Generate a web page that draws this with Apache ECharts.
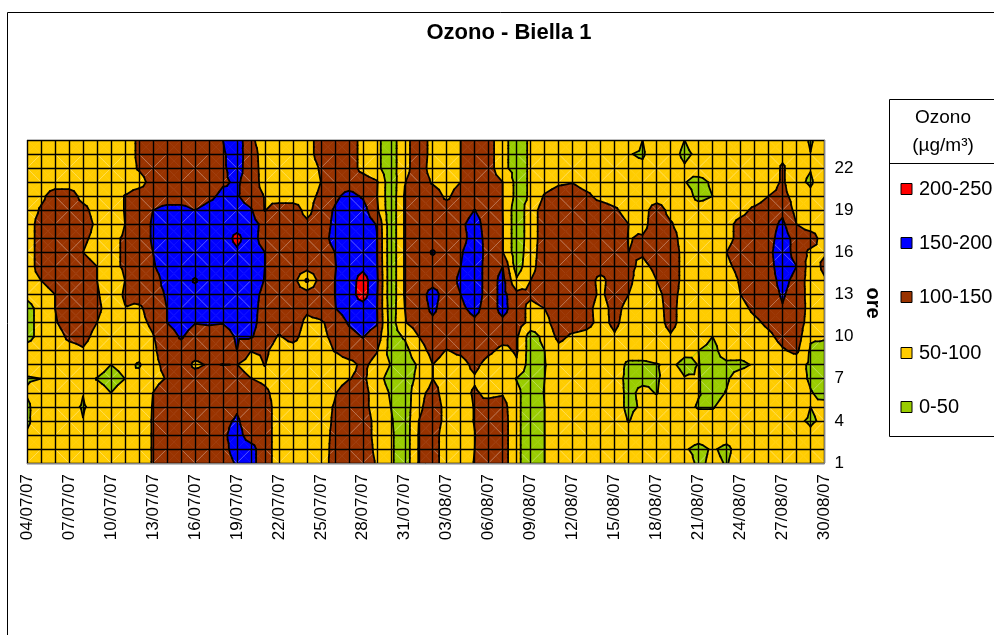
<!DOCTYPE html>
<html><head><meta charset="utf-8">
<style>html,body{margin:0;padding:0;background:#fff}#c{width:994px;height:635px}</style>
<script src="https://cdn.jsdelivr.net/npm/echarts@6/dist/echarts.min.js"></script>
</head><body><div id="c"></div>
<script>
const dates=['04/07/07','05/07/07','06/07/07','07/07/07','08/07/07','09/07/07','10/07/07','11/07/07','12/07/07','13/07/07','14/07/07','15/07/07','16/07/07','17/07/07','18/07/07','19/07/07','20/07/07','21/07/07','22/07/07','23/07/07','24/07/07','25/07/07','26/07/07','27/07/07','28/07/07','29/07/07','30/07/07','31/07/07','01/08/07','02/08/07','03/08/07','04/08/07','05/08/07','06/08/07','07/08/07','08/08/07','09/08/07','10/08/07','11/08/07','12/08/07','13/08/07','14/08/07','15/08/07','16/08/07','17/08/07','18/08/07','19/08/07','20/08/07','21/08/07','22/08/07','23/08/07','24/08/07','25/08/07','26/08/07','27/08/07','28/08/07','29/08/07','30/08/07'];
const hours=['1','2','3','4','5','6','7','8','9','10','11','12','13','14','15','16','17','18','19','20','21','22','23','24'];
const bandLabels=['200-250','150-200','100-150','50-100','0-50'];
const bandColors=['#FF0000','#0000FF','#993300','#FFCC00','#99CC00'];
const h24=[75,75,75,75,75,75,75,70,110,125, 125,125,125,125,150,178,110,75,75,75, 80,120,125,125,85,60,25,85,125,85, 85,100,125,125,60,35,55,75,75,75, 75,75,75,75,50,70,75,50,75,75, 75,75,75,75,75,75,45,75];
const h23=[75,75,75,75,75,75,75,70,110,125, 125,125,125,125,145,170,125,75,75,75, 80,120,125,125,85,60,25,85,125,85, 85,100,125,125,60,35,55,75,75,75, 75,75,75,52,45,80,69,40,60,75, 75,75,75,75,85,75,51,75];
const h22=[75,75,75,75,75,75,75,75,105,125, 125,125,125,125,145,165,130,75,75,75, 75,105,125,125,85,60,25,85,125,80, 80,100,125,125,60,35,55,75,75,75, 75,75,75,60,59,75,75,55,75,75, 75,75,75,60,108,60,52,75];
const h21=[75,75,75,75,75,75,75,75,80,120, 125,125,125,125,145,155,135,75,75,75, 75,100,125,125,125,105,15,98,125,95, 80,100,125,125,100,35,55,75,92,98, 80,75,75,75,75,75,75,52,35,57, 75,75,75,70,108,59,45,74];
const h20=[75,88,125,125,85,75,75,102,125,125, 125,125,125,140,160,155,125,97,75,75, 85,108,140,165,145,102,15,105,125,125, 90,125,125,125,100,35,55,105,125,125, 110,85,75,75,75,75,75,75,35,50, 75,75,75,100,115,80,59,75];
const h19=[70,106,125,125,115,80,75,102,125,150, 165,165,150,165,170,170,155,98,125,125, 85,125,155,180,170,110,15,105,125,125, 125,125,151,125,100,20,75,125,125,125, 125,125,108,80,80,125,85,75,75,75, 75,85,110,125,138,85,75,75];
const h18=[70,125,125,125,125,90,75,100,125,155, 170,175,175,175,175,175,170,135,125,125, 110,125,160,180,175,148,15,105,125,125, 125,140,170,125,102,20,75,125,125,125, 125,125,125,100,85,125,105,75,75,75, 85,115,125,130,160,100,75,75];
const h17=[70,125,125,125,110,85,90,105,125,155, 175,175,175,175,170,215,170,130,125,125, 125,130,165,180,175,152,15,105,125,125, 125,130,175,130,102,20,75,125,125,125, 125,125,125,98,105,125,125,75,75,75, 85,115,125,130,175,130,125,75];
const h16=[70,125,125,125,100,75,90,105,125,150, 175,175,175,175,170,190,170,150,125,125, 125,125,150,175,180,152,15,105,125,155, 125,145,180,130,102,20,80,125,125,125, 125,125,125,100,105,125,125,85,75,75, 100,125,125,135,185,125,90,95];
const h15=[70,125,125,125,125,100,90,105,125,145, 175,175,175,175,175,175,175,150,125,125, 125,125,148,170,185,155,15,105,125,130, 125,150,180,125,150,25,85,125,125,125, 125,125,125,110,90,110,125,85,75,75, 90,115,125,130,180,150,75,110];
const h14=[75,100,125,125,125,100,75,100,125,125, 170,175,145,175,175,175,175,148,125,125, 40,125,150,170,225,160,15,105,125,130, 125,160,180,125,165,57,100,125,125,125, 125,85,125,110,75,100,125,85,75,75, 75,105,125,130,165,135,75,95];
const h13=[60,75,100,125,125,105,75,105,125,130, 155,165,170,170,170,170,165,140,125,125, 125,125,150,175,225,155,15,105,125,170, 125,150,180,125,165,115,110,125,125,125, 125,90,125,100,75,90,115,85,75,75, 75,100,125,130,155,130,80,75];
const h12=[35,65,100,125,125,110,80,98,90,125, 150,170,170,170,170,170,165,135,125,125, 108,120,148,175,175,152,20,100,125,160, 125,140,165,125,165,125,85,100,125,125, 115,80,115,85,75,85,115,80,75,75, 75,85,110,125,147,125,85,75];
const h11=[35,65,95,125,125,100,75,75,85,110, 150,170,152,155,152,165,165,130,125,125, 90,95,115,155,170,155,25,97,125,140, 125,125,140,125,140,125,85,85,125,125, 115,85,110,80,75,80,115,80,75,75, 75,75,90,110,125,125,80,75];
const h10=[35,65,75,110,115,85,75,75,75,97, 125,155,130,130,130,155,155,125,96,115, 80,90,110,135,152,130,30,55,100,125, 125,125,125,125,115,105,25,65,112,92, 85,75,95,75,75,75,95,75,75,50, 75,75,75,90,115,125,55,55];
const h09=[70,75,75,80,95,75,75,75,75,90, 130,130,125,125,125,150,101,108,80,80, 75,80,102,125,125,103,30,35,80,115, 98,108,125,108,90,105,25,50,85,75, 75,75,75,75,75,75,75,59,50,35, 75,70,75,75,95,110,45,35];
const h08=[75,75,75,75,75,75,50,65,45,85, 115,130,90,105,99,101,75,101,80,75, 75,75,75,85,110,85,48,30,55,100, 85,85,110,85,75,95,25,48,75,75, 75,75,75,40,40,48,57,40,51,35, 40,40,55,75,75,68,42,35];
const h07=[45,50,75,75,75,48,30,50,65,85, 103,125,125,125,125,125,101,90,75,75, 75,75,80,98,110,70,30,30,60,100, 85,85,95,75,75,48,30,50,75,75, 75,75,65,40,40,45,70,52,52,35, 45,70,75,75,75,65,45,35];
const h06=[55,75,75,75,51,75,50,75,75,100, 125,125,125,125,125,125,125,110,80,75, 75,75,97,125,115,80,45,20,85,115, 80,85,105,90,95,60,25,52,75,75, 75,75,70,40,60,48,75,65,52,35, 52,75,75,75,75,75,52,40];
const h05=[40,82,75,60,47,60,75,75,75,102, 125,125,125,125,125,145,125,125,75,75, 75,85,103,125,115,80,50,20,90,125, 85,80,102,115,120,60,25,50,75,75, 75,75,70,40,56,75,75,60,47,47, 65,75,75,75,75,75,50,60];
const h04=[42,75,75,75,51,75,75,75,75,103, 125,125,125,125,140,155,130,125,75,75, 75,85,105,125,125,85,55,20,100,125, 85,80,102,125,125,60,25,50,75,75, 75,75,75,48,75,75,75,75,65,65, 75,75,75,75,75,57,45,57];
const h03=[55,75,75,75,75,75,75,75,75,103, 125,125,125,125,143,165,130,125,75,75, 75,85,108,125,125,85,58,20,103,125, 70,80,99,125,125,60,25,50,75,75, 75,75,75,75,75,75,75,75,70,75, 70,75,75,75,75,75,57,75];
const h02=[75,75,75,75,75,75,75,75,75,103, 125,125,125,125,135,170,165,125,75,75, 75,85,110,125,125,90,58,20,103,125, 70,80,100,125,125,60,25,50,75,75, 75,75,75,75,75,75,75,55,38,55, 40,70,75,75,75,75,75,75];
const h01=[75,75,75,75,75,75,75,75,75,103, 125,125,125,125,130,155,165,125,75,75, 75,80,115,125,125,96,58,20,103,125, 70,80,102,125,125,60,25,50,75,75, 75,75,75,75,75,75,75,75,40,60, 47,70,75,75,75,75,75,75];
const rows=[h01,h02,h03,h04,h05,h06,h07,h08,h09,h10,h11,h12,h13,h14,h15,h16,h17,h18,h19,h20,h21,h22,h23,h24];
rows.forEach((r,k)=>{if(r.length!==58)throw new Error('row '+(k+1)+' has '+r.length);});
const levels=[50,100,150,200];
const bandRanges=[[200,1e4],[150,200],[100,150],[50,100],[-1e4,50]];

function clipAbove(p,l,sign){const o=[];for(let k=0;k<p.length;k++){const a=p[k],b=p[(k+1)%p.length];const ia=sign*(a[2]-l)>=0,ib=sign*(b[2]-l)>=0;if(ia)o.push(a);if(ia!==ib){const t=(l-a[2])/(b[2]-a[2]);o.push([a[0]+t*(b[0]-a[0]),a[1]+t*(b[1]-a[1]),l]);}}return o;}
const cellData=[];
for(let j=0;j<23;j++)for(let i=0;i<57;i++)cellData.push([i,j]);
function renderCell(params,api){
  const i=api.value(0),j=api.value(1);
  const P=(a,b,v)=>{const c=api.coord([a,b]);return [c[0],c[1],v];};
  const A=P(i,j,rows[j][i]),B=P(i+1,j,rows[j][i+1]),C=P(i+1,j+1,rows[j+1][i+1]),D=P(i,j+1,rows[j+1][i]);
  const M=[(A[0]+C[0])/2,(A[1]+C[1])/2,(A[2]+B[2]+C[2]+D[2])/4];
  const kids=[];
  [[A,B],[B,C],[C,D],[D,A]].forEach(([u,w])=>{
    const tri=[u,w,M];
    bandRanges.forEach((r,b)=>{
      let p=clipAbove(tri,r[0],1);if(p.length)p=clipAbove(p,r[1],-1);
      if(p.length>=3)kids.push({type:'polygon',z2:1,shape:{points:p.map(q=>[q[0],q[1]])},style:{fill:bandColors[b],stroke:bandColors[b],lineWidth:0.6}});
    });
    levels.forEach(l=>{
      const s=[];[[u,w],[w,M],[M,u]].forEach(([a,c])=>{if((a[2]<l)!==(c[2]<l)){const t=(l-a[2])/(c[2]-a[2]);s.push([a[0]+t*(c[0]-a[0]),a[1]+t*(c[1]-a[1])]);}});
      if(s.length===2)kids.push({type:'line',z2:5,shape:{x1:s[0][0],y1:s[0][1],x2:s[1][0],y2:s[1][1]},style:{stroke:'#000',lineWidth:1.8,lineCap:'round'}});
    });
  });
  // faint facet diagonals radiating from every third node, as in the surface plot
  [[i,j,A,C],[i+1,j,B,D],[i+1,j+1,C,A],[i,j+1,D,B]].forEach(([a,b,u,w])=>{
    if(a%3===0&&b%3===0)kids.push({type:'line',z2:3,shape:{x1:u[0],y1:u[1],x2:w[0],y2:w[1]},style:{stroke:'rgba(255,255,255,0.3)',lineWidth:1}});
  });
  return {type:'group',children:kids};
}
const FONT='"Liberation Sans",Arial,sans-serif';
const gfx=[
 {type:'line',shape:{x1:7.5,y1:12.5,x2:994,y2:12.5},style:{stroke:'#000',lineWidth:1}},
 {type:'line',shape:{x1:7.5,y1:12.5,x2:7.5,y2:635},style:{stroke:'#000',lineWidth:1}},
 {type:'rect',shape:{x:889.5,y:99.5,width:110,height:337},style:{fill:'#fff',stroke:'#000',lineWidth:1}},
 {type:'line',shape:{x1:889.5,y1:163.5,x2:994,y2:163.5},style:{stroke:'#000',lineWidth:1}},
 {type:'text',style:{x:943,y:118,text:'Ozono',font:'19px '+FONT,fill:'#000',textAlign:'center',textVerticalAlign:'middle'}},
 {type:'text',style:{x:943,y:146,text:'(µg/m³)',font:'19px '+FONT,fill:'#000',textAlign:'center',textVerticalAlign:'middle'}},
 {type:'text',rotation:-Math.PI/2,x:873,y:303,style:{x:0,y:0,text:'ore',font:'bold 20px '+FONT,fill:'#000',textAlign:'center',textVerticalAlign:'middle'}}
];
const legendY=[189,243,297,353,407];
bandLabels.forEach((t,k)=>{
 gfx.push({type:'rect',shape:{x:901,y:legendY[k]-5.5,width:11,height:11},style:{fill:bandColors[k],stroke:'#000',lineWidth:1}});
 gfx.push({type:'text',style:{x:919,y:legendY[k],text:t,font:'20px '+FONT,fill:'#000',textAlign:'left',textVerticalAlign:'middle'}});
});
const chart=echarts.init(document.getElementById('c'),null,{renderer:'canvas'});
chart.setOption({
 animation:false,backgroundColor:'#fff',
 title:{text:'Ozono - Biella 1',left:504,top:17,textAlign:'center',textStyle:{fontFamily:FONT,fontSize:22,fontWeight:'bold',color:'#000'}},
 grid:{left:27,top:140,width:797.5,height:323,containLabel:false},
 xAxis:{type:'category',data:dates,boundaryGap:false,z:10,
  axisLine:{lineStyle:{color:'#808080',width:1}},
  axisTick:{length:5,interval:0,lineStyle:{color:'#808080'}},
  axisLabel:{interval:2,rotate:90,margin:11,fontFamily:FONT,fontSize:17,color:'#000'},
  splitLine:{show:true,interval:0,lineStyle:{color:'#000',width:1.4}}},
 yAxis:{type:'category',data:hours,boundaryGap:false,position:'right',z:10,
  axisLine:{lineStyle:{color:'#808080',width:1}},
  axisTick:{length:5,interval:0,lineStyle:{color:'#808080'}},
  axisLabel:{interval:2,margin:10,fontFamily:FONT,fontSize:17,color:'#000'},
  splitLine:{show:true,interval:0,lineStyle:{color:'#000',width:1.4}}},
 series:[{type:'custom',data:cellData,renderItem:renderCell,silent:true,clip:true,encode:{x:0,y:1}}],
 graphic:{elements:gfx}
});
</script></body></html>
